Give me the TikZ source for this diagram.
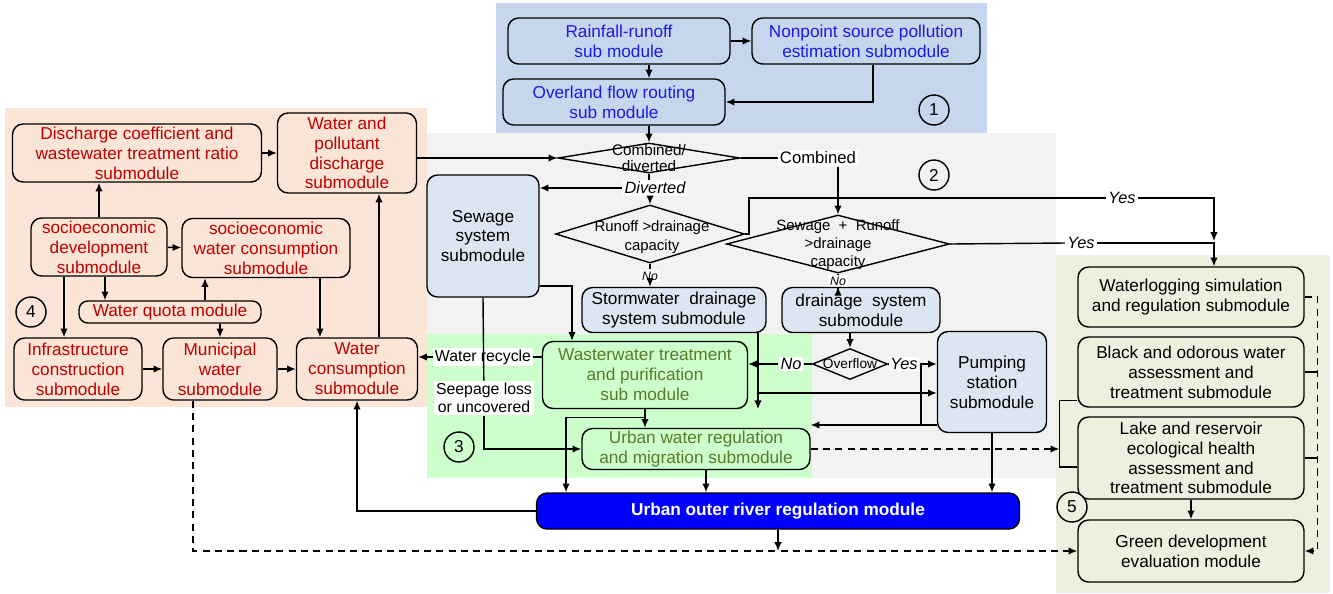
\documentclass[tikz,border=0pt]{standalone}
\usepackage{fontspec}
\setmainfont{Liberation Sans}
\usetikzlibrary{arrows.meta}
\usetikzlibrary{shapes}
\definecolor{bluebg}{HTML}{C6D6EC}
\definecolor{orangebg}{HTML}{FBE5D6}
\definecolor{graybg}{HTML}{F2F2F2}
\definecolor{greenbg}{HTML}{CCFFCC}
\definecolor{olivebg}{HTML}{EBF1DE}
\definecolor{boxblue}{HTML}{DCE6F2}
\definecolor{txtblue}{HTML}{1A1AE6}
\definecolor{txtred}{HTML}{C00000}
\definecolor{txtolive}{HTML}{5A7A2A}
\definecolor{riverblue}{HTML}{0000FF}

\begin{document}
\begin{tikzpicture}[x=0.02cm, y=-0.02cm, >={Latex[length=5pt,width=4.2pt]}, line width=0.8pt,
  every node/.style={font=\fontsize{9.8}{11.3}\selectfont},
  box/.style={draw, rounded corners=6pt, align=center, inner sep=1pt},
  dec/.style={diamond, draw, inner sep=0pt},
  lab/.style={fill=white, inner sep=1pt, font=\fontsize{9.3}{10}\selectfont\itshape},
  num/.style={circle, draw, minimum size=0.6cm, inner sep=0pt},
  dashln/.style={dash pattern=on 4pt off 3pt}]

\useasboundingbox (0,0) rectangle (1333,593);
\fill[orangebg] (5,108) rectangle (427,407);
\fill[bluebg] (496,3) rectangle (987,133);
\fill[graybg] (427,133) rectangle (1056,478);
\fill[greenbg] (427,334) rectangle (812,478);
\fill[olivebg] (1056,255) rectangle (1330,593);

\node[box, text=txtblue, minimum width=4.44cm, minimum height=0.92cm] (rr) at (619,41) {Rainfall-runoff\\sub module};
\node[box, text=txtblue, minimum width=4.56cm, minimum height=0.92cm] (nps) at (866,41) {Nonpoint source pollution\\estimation submodule};
\node[box, text=txtblue, minimum width=4.44cm, minimum height=0.92cm] (ofr) at (614,102) {Overland flow routing\\sub module};
\node[num] (n1) at (934,110) {1};

\node[box, text=txtred, minimum width=4.98cm, minimum height=1.16cm] (disc) at (137,153) {Discharge coefficient and\\wastewater treatment ratio\\submodule};
\node[box, text=txtred, minimum width=2.78cm, minimum height=1.6cm] (wpd) at (347,153) {Water and\\pollutant\\discharge\\submodule};
\node[box, text=txtred, minimum width=2.72cm, minimum height=1.16cm] (sed) at (99,247) {socioeconomic\\development\\submodule};
\node[box, text=txtred, minimum width=3.36cm, minimum height=1.18cm] (swc) at (266,248) {socioeconomic\\water consumption\\submodule};
\node[box, text=txtred, minimum width=3.64cm, minimum height=0.44cm, rounded corners=5pt] (wq) at (170,312) {Water quota module};
\node[num] (n4) at (31,312) {4};
\node[box, text=txtred, minimum width=2.56cm, minimum height=1.24cm] (inf) at (78,369) {Infrastructure\\construction\\submodule};
\node[box, text=txtred, minimum width=2.28cm, minimum height=1.24cm] (mun) at (220,369) {Municipal\\water\\submodule};
\node[box, text=txtred, minimum width=2.42cm, minimum height=1.24cm] (wc) at (357,369) {Water\\consumption\\submodule};

\node[dec, minimum width=3.64cm, minimum height=0.6cm] (d1) at (649,158) {};
\node[align=center, font=\fontsize{8.7}{9}\selectfont] (d1t) at (649,158) {Combined/\\diverted};
\node[lab, font=\fontsize{9.5}{10}\selectfont] (comb) at (818,158) {Combined};
\node[lab] (div) at (655,188) {Diverted};
\node[box, fill=boxblue, minimum width=2.24cm, minimum height=2.44cm] (sew) at (483,236) {Sewage\\system\\submodule};
\node[dec, minimum width=3.78cm, minimum height=1.16cm] (dr) at (650,234) {};
\node[align=center, font=\fontsize{8.5}{10.5}\selectfont] (drt) at (652,237) {Runoff >drainage\\capacity};
\node[dec, minimum width=4.46cm, minimum height=1.16cm] (d2) at (838,244) {};
\node[align=center, font=\fontsize{8.5}{10.3}\selectfont] (d2t) at (838,245) {Sewage\ \ +\ \ Runoff\\>drainage\\capacity};
\node[lab, font=\fontsize{7}{8}\selectfont\itshape] (no1) at (650,276) {No};
\node[lab, font=\fontsize{7}{8}\selectfont\itshape] (no2) at (838,281) {No};
\node[box, fill=boxblue, minimum width=3.68cm, minimum height=0.9cm] (sto) at (674,310) {Stormwater\ \ drainage\\system submodule};
\node[box, fill=boxblue, minimum width=3.16cm, minimum height=0.9cm] (dra) at (861,310) {drainage\ \ system\\submodule};
\node[num] (n2) at (934,175) {2};
\node[dec, minimum width=1.5cm, minimum height=0.62cm] (ovf) at (850,364) {};
\node[font=\fontsize{7.8}{9}\selectfont] (ovft) at (850,364) {Overflow};
\node[box, fill=boxblue, minimum width=2.18cm, minimum height=2.02cm] (pump) at (992,382) {Pumping\\station\\submodule};

\node[box, fill=greenbg, text=txtolive, minimum width=4.1cm, minimum height=1.34cm] (www) at (645,375) {Wasterwater treatment\\and purification\\sub module};
\node[box, fill=greenbg, text=txtolive, minimum width=4.56cm, minimum height=0.82cm] (uwr) at (696,449) {Urban water regulation\\and migration submodule};
\node[num] (n3) at (459,447) {3};
\node[lab, font=\fontsize{9}{10}\selectfont] (wrec) at (483,357) {Water recycle};
\node[lab, font=\fontsize{9}{10.5}\selectfont, align=center] (seep) at (484,398) {Seepage loss\\or uncovered};
\node[lab] (no3) at (791,364) {No};
\node[lab] (yes3) at (904,364) {Yes};
\node[box, fill=riverblue, text=white, font=\fontsize{9.8}{11}\selectfont\bfseries, minimum width=9.66cm, minimum height=0.72cm] (uor) at (778,511) {Urban outer river regulation module};

\node[box, fill=olivebg, minimum width=4.52cm, minimum height=1.2cm] (wl) at (1191,297) {Waterlogging simulation\\and regulation submodule};
\node[box, fill=olivebg, minimum width=4.52cm, minimum height=1.4cm] (bo) at (1191,372) {Black and odorous water\\assessment and\\treatment submodule};
\node[box, fill=olivebg, minimum width=4.52cm, minimum height=1.64cm] (lake) at (1191,458) {Lake and reservoir\\ecological health\\assessment and\\treatment submodule};
\node[box, fill=olivebg, minimum width=4.52cm, minimum height=1.24cm] (gd) at (1191,551) {Green development\\evaluation module};
\node[num, fill=olivebg] (n5) at (1072,507) {5};
\node[lab] (yes1) at (1122,198) {Yes};
\node[lab] (yes2) at (1081,243) {Yes};

\coordinate (na) at ([xshift=0.14cm]nps.south);
\coordinate (wltop) at ([xshift=0.46cm]wl.north);
\coordinate (wlmid) at (wltop |- d2.east);
\coordinate (se) at ([yshift=-1cm]sew.east);
\coordinate (wi) at ([xshift=-1.46cm]www.north);
\coordinate (stoout) at ([xshift=1.68cm]sto.south);
\coordinate (p2) at ([yshift=-0.22cm]pump.west);
\coordinate (p3) at ([yshift=-0.86cm]pump.west);
\coordinate (pj) at ([xshift=-0.32cm]pump.west);
\coordinate (wj) at ([yshift=-0.16cm]www.south);
\coordinate (uin) at ([xshift=-4.24cm]uor.north);
\coordinate (uwo) at ([xshift=0.2cm]uwr.south);
\coordinate (brk) at ([xshift=-0.36cm]lake.west);
\coordinate (rd) at ([xshift=0.26cm]wl.east);
\coordinate (mo) at ([xshift=-0.54cm]mun.south);
\coordinate (sa) at ([xshift=0.12cm]sed.south);
\coordinate (sb) at ([xshift=-0.7cm]sed.south);
\coordinate (qa) at ([xshift=0.7cm]wq.north);
\coordinate (sc) at ([xshift=1.08cm]swc.south);
\coordinate (wa) at ([xshift=0.44cm]wc.north);

\draw[->] (rr) -- (nps);
\draw[->] (rr.south -| d1) -- (ofr.north -| d1);
\draw[->] (na) |- (ofr.east);
\draw[->] (ofr.south -| d1) -- (d1.north);
\draw[->] (wpd.east |- d1) -- (d1.west);
\draw (d1.east) -- (comb.west);
\draw[->] (comb.south -| d2) -- (d2.north);
\draw (d1.south) -- (d1.south |- div.north);
\draw[->] (dr.north |- div.south) -- (dr.north);
\draw[->] (div.west) -- (sew.east |- div.west);
\draw (dr.south) -- (no1);
\draw[->] (no1) -- (sto.north -| no1);
\draw (d2.south) -- (no2);
\draw[->] (no2) -- (dra.north -| no2);
\draw (dr.east) -- ++(4,0) |- (yes1.west);
\draw[->] (yes1.east) -| ([yshift=0.06cm]wlmid);
\draw (d2.east) -- (yes2.west);
\draw[->] (yes2.east) -| (wltop);

\draw[->] (se) -| (wi);
\draw (sew.south) -- (seep);
\draw[->] (seep) |- (uwr.west);
\draw (www.west |- wrec) -- (wrec);
\draw[->] (wrec) -- (wc.east |- wrec);
\draw[->] (stoout) -- (stoout |- www.south);
\draw[->] (stoout |- p2) -- (p2);
\draw[->] (dra.south -| ovf) -- (ovf.north);
\draw (ovf.west) -- (no3);
\draw[->] (no3) -- (www.east |- ovf);
\draw (ovf.east) -- (yes3);
\draw[->] (yes3) -- (pump.west |- ovf);
\draw (pj |- ovf) -- (pj |- p3);
\draw[->] (p3) -- (uwr.east |- p3);
\draw[->] (www.south) -- (uwr.north -| www.south);
\draw[->] (wj) -| (uin);
\draw[->] (uwo) -- (uwo |- uor.north);
\draw[->] (pump.south) -- (uor.north -| pump.south);
\draw[->] (uor.west) -| (wc.south);

\draw[dashln, ->] (uwr.east) -- (uwr.east -| brk);
\draw ([yshift=0.14cm]bo.south west) -| ([yshift=-0.18cm]brk) -- ([yshift=-0.18cm]lake.west);
\draw[dashln, ->] (wl.east) -- (rd) |- (gd.east);
\draw (bo.east) -- (bo.east -| rd);
\draw (lake.east) -- (lake.east -| rd);
\draw[->] (lake) -- (gd);
\draw[dashln, ->] (mo) |- (gd.west);
\draw[->] (uor.south) -- (uor.south |- gd.west);

\draw[->] (disc) -- (wpd);
\draw[->] (sed.north) -- (sed.north |- disc.south);
\draw[->] (sed) -- (swc);
\draw[->] (sa) -- (sa |- wq.north);
\draw[->] (sb) -- (sb |- inf.north);
\draw[->] (qa) -- (qa |- swc.south);
\draw[->] (wq.south -| mun) -- (mun.north);
\draw[->] (sc) -- (sc |- wc.north);
\draw[->] (wa) -- (wa |- wpd.south);
\draw[->] (inf) -- (mun);
\draw[->] (mun) -- (wc);
\end{tikzpicture}
\end{document}
